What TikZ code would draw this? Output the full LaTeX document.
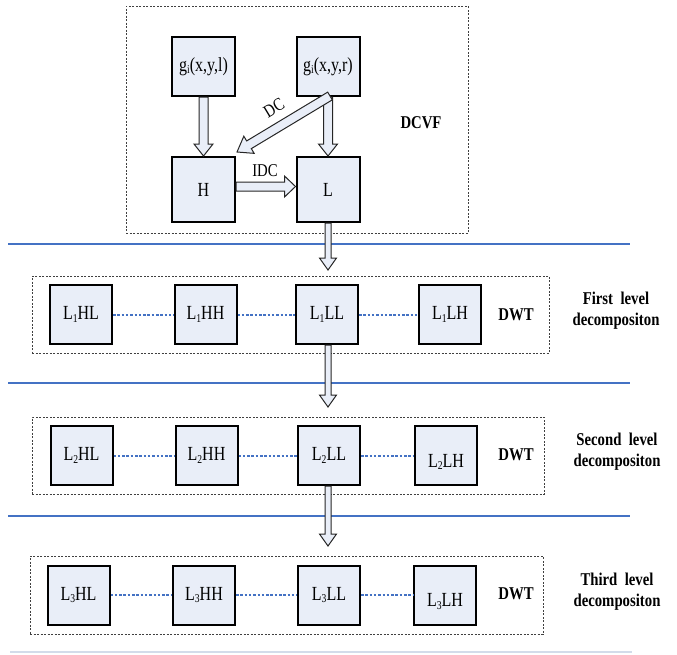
\documentclass[tikz,border=0pt]{standalone}
\usepackage{fontspec}
\setmainfont{Liberation Serif}
\newfontfamily\boxfont{Liberation Serif}[FakeStretch=0.8]
\newfontfamily\lblfont{Liberation Serif}[FakeStretch=0.82]
\usetikzlibrary{calc}
\definecolor{boxfill}{HTML}{E9EEF8}
\definecolor{sepblue}{HTML}{4472C4}
\definecolor{faint}{HTML}{D3DCEA}
\newcommand\lsub[1]{\raisebox{-2.5pt}{\fontsize{12}{12}\selectfont #1}}
\newcommand\fatarrow[5]{%
  \coordinate (fa-q) at ($(#2)!#5!(#1)$);
  \draw[arrowbody] ($(#1)!#3!90:(#2)$) -- ($(fa-q)!#3!90:(#2)$) -- ($(fa-q)!#4!90:(#2)$) -- (#2)
    -- ($(fa-q)!#4!-90:(#2)$) -- ($(fa-q)!#3!-90:(#2)$) -- ($(#1)!#3!-90:(#2)$) -- cycle;}
\begin{document}
\begin{tikzpicture}[x=1pt,y=-1pt,
  blk/.style={draw, line width=2pt, fill=boxfill, minimum width=62pt, minimum height=59pt, inner sep=0pt,
    font=\boxfont\fontsize{20}{20}\selectfont},
  tallblk/.style={blk, minimum width=63pt, minimum height=65pt},
  topblk/.style={blk, minimum width=63pt},
  dashbox/.style={draw=black!75, line width=0.8pt, dash pattern=on 2pt off 1.5pt, inner sep=0pt},
  sep/.style={draw=sepblue, line width=2.5pt},
  dotlink/.style={draw=sepblue, line width=2pt, dash pattern=on 2.5pt off 1.8pt},
  arrowbody/.style={draw=black!85, line width=1pt, fill=boxfill, line join=miter},
  bold/.style={font=\lblfont\fontsize{18}{21}\selectfont\bfseries, align=center},
  plain/.style={font=\lblfont\fontsize{18}{18}\selectfont}]
\useasboundingbox (0,0) rectangle (677,654);

% dashed frames
\node[dashbox, minimum width=342pt, minimum height=227pt] (frame0) at (297,119.5) {};
\node[dashbox, minimum width=517pt, minimum height=77pt] (frame1) at (290.5,314.5) {};
\node[dashbox, minimum width=512pt, minimum height=77pt] (frame2) at (288,455.5) {};
\node[dashbox, minimum width=513pt, minimum height=78pt] (frame3) at (286.5,595) {};

% separators
\draw[sep] (8,244) -- (630,244);
\draw[sep] (8,383) -- (630,383);
\draw[sep] (8,516) -- (630,516);
\draw[draw=faint, line width=2.5pt] (10,652) -- (632,652);

% DCVF part
\node[topblk] (gl) at (203.5,66.5) {g\lsub{i}(x,y,l)};
\node[topblk] (gr) at (328,66.5) {g\lsub{i}(x,y,r)};
\node[tallblk] (H) at (203.5,189.5) {H};
\node[tallblk] (L) at (328,189.5) {L};
\node[bold] (dcvf) at (421,123) {DCVF};

\fatarrow{gl.south}{H.north}{4.5pt}{9.5pt}{12pt}
\fatarrow{gr.south}{L.north}{4.5pt}{9.5pt}{12pt}
\coordinate (dcs) at ($(gr.south)+(2,-1)$);
\coordinate (dce) at ($(H.north east)+(1,-4)$);
\fatarrow{dcs}{dce}{4.5pt}{10pt}{14pt}
\coordinate (idcs) at ($(H.east)+(0,-3)$);
\coordinate (idce) at ($(L.west)+(0,-3)$);
\fatarrow{idcs}{idce}{4.5pt}{10.5pt}{11pt}
\node[plain, rotate=31, inner sep=1pt] (dclbl) at (274,108) {DC};
\node[plain, inner sep=1pt] (idclbl) at (265,171) {IDC};

% level 1
\node[blk] (r1a) at (81,314.5) {L\lsub{1}HL};
\node[blk] (r1b) at (205.5,314.5) {L\lsub{1}HH};
\node[blk] (r1c) at (327,314.5) {L\lsub{1}LL};
\node[blk] (r1d) at (450,314.5) {L\lsub{1}LH};
\draw[dotlink] (r1a) -- (r1b);
\draw[dotlink] (r1b) -- (r1c);
\draw[dotlink] (r1c) -- (r1d);
\node[bold] (dwt1) at (516,315) {DWT};
\node[bold] (lev1) at (616,311) {First\ \ level\\decompositon};

% level 2
\node[blk] (r2a) at (81.5,455.5) {L\lsub{2}HL};
\node[blk] (r2b) at (206.5,455.5) {L\lsub{2}HH};
\node[blk] (r2c) at (329,455.5) {L\lsub{2}LL};
\node[blk] (r2d) at (446,455.5) {\raisebox{-6pt}[14pt][3pt]{L\lsub{2}LH}};
\draw[dotlink] (r2a) -- (r2b);
\draw[dotlink] (r2b) -- (r2c);
\draw[dotlink] (r2c) -- (r2d);
\node[bold] (dwt2) at (516,455) {DWT};
\node[bold] (lev2) at (617,452) {Second\ \ level\\decompositon};

% level 3
\node[blk] (r3a) at (78.5,595) {L\lsub{3}HL};
\node[blk] (r3b) at (204,595) {L\lsub{3}HH};
\node[blk] (r3c) at (329,595) {L\lsub{3}LL};
\node[blk] (r3d) at (445,595) {\raisebox{-6pt}[14pt][3pt]{L\lsub{3}LH}};
\draw[dotlink] (r3a) -- (r3b);
\draw[dotlink] (r3b) -- (r3c);
\draw[dotlink] (r3c) -- (r3d);
\node[bold] (dwt3) at (516,594) {DWT};
\node[bold] (lev3) at (617,592) {Third\ \ level\\decompositon};

% level arrows
\coordinate (t1) at (328,270);
\coordinate (s2) at (328,345);
\coordinate (t2) at (328,407);
\coordinate (s3) at (328,486);
\coordinate (t3) at (328,546);
\fatarrow{L.south}{t1}{3pt}{8.5pt}{12pt}
\fatarrow{s2}{t2}{3pt}{8.5pt}{12pt}
\fatarrow{s3}{t3}{3pt}{8.5pt}{12pt}
\end{tikzpicture}
\end{document}
